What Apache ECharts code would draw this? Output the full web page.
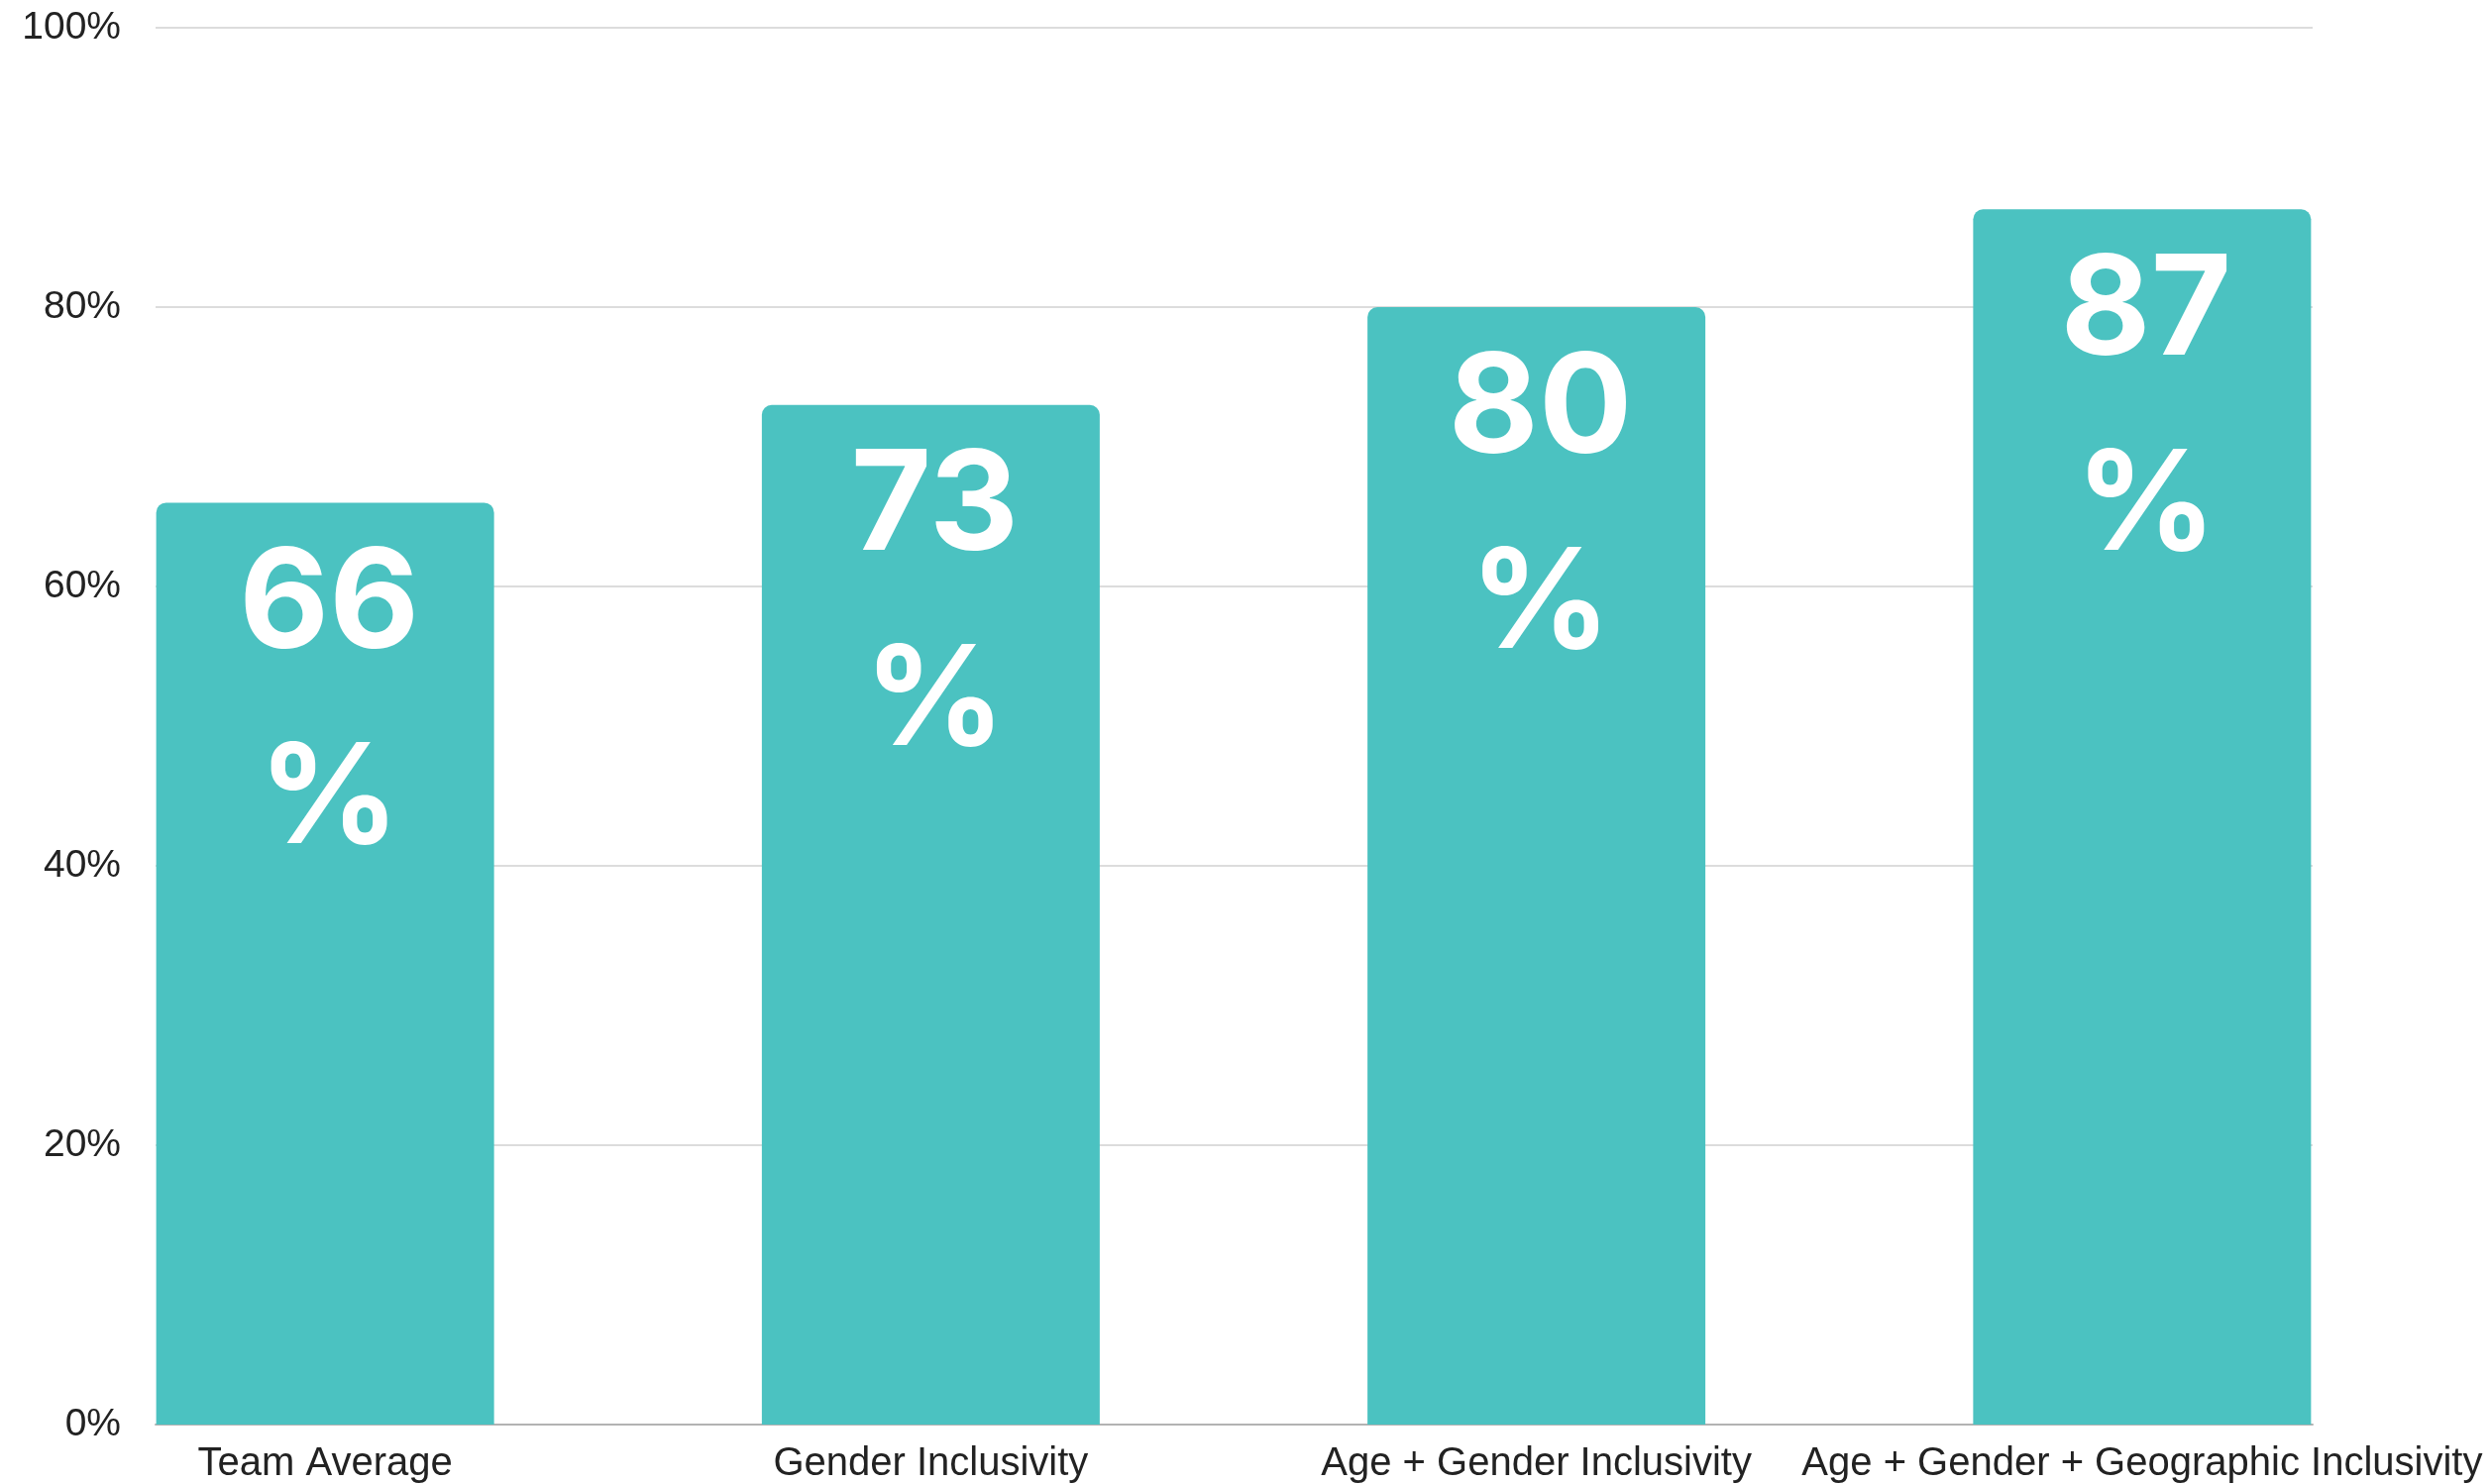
<!DOCTYPE html>
<html>
<head>
<meta charset="utf-8">
<script src="https://cdn.jsdelivr.net/npm/echarts@6/dist/echarts.min.js"></script>
<style>
html,body{margin:0;padding:0;background:#fff;}
#chart{width:2513px;height:1498px;}
</style>
</head>
<body>
<div id="chart"></div>
<script>
const categories = ['Team Average', 'Gender Inclusivity', 'Age + Gender Inclusivity', 'Age + Gender + Geographic Inclusivity'];
const values = [66, 73, 80, 87];
const yTicks = { min: 0, max: 100, interval: 20 };

const chart = echarts.init(document.getElementById('chart'), null, { renderer: 'canvas' });
chart.setOption({
  backgroundColor: '#ffffff',
  animation: false,
  grid: [
    { left: 157, right: 179, top: 28, bottom: 60 },
    { left: 22.5, right: 45.5, top: 28, bottom: 60 }
  ],
  xAxis: [
    {
      gridIndex: 0, type: 'value', min: 0, max: 1,
      axisLine: { show: true, lineStyle: { color: '#b3b3b3', width: 2 } },
      axisTick: { show: false }, axisLabel: { show: false }, splitLine: { show: false }
    },
    {
      gridIndex: 1, type: 'category', data: categories,
      axisLine: { show: false }, axisTick: { show: false },
      axisLabel: { interval: 0, fontSize: 40, color: '#222', fontFamily: 'Liberation Sans, Arial, sans-serif', margin: 20 }
    }
  ],
  yAxis: [
    {
      gridIndex: 0, type: 'value', min: yTicks.min, max: yTicks.max, interval: yTicks.interval,
      axisLine: { show: false }, axisTick: { show: false },
      axisLabel: { formatter: '{value}%', fontSize: 39, color: '#222', fontFamily: 'Liberation Sans, Arial, sans-serif', margin: 35 },
      splitLine: { show: true, lineStyle: { color: '#dcdcdc', width: 2 } }
    },
    {
      gridIndex: 1, type: 'value', min: yTicks.min, max: yTicks.max, show: false
    }
  ],
  series: [
    {
      type: 'bar', xAxisIndex: 1, yAxisIndex: 1,
      data: values, barWidth: 341,
      itemStyle: { color: '#4BC2C1', borderRadius: [10, 10, 0, 0] },
      label: {
        show: true, position: 'insideTop', distance: 6,
        formatter: '{c}\n%', color: '#ffffff', fontSize: 140, fontWeight: 'bold',
        fontFamily: 'Inter, Open Sans, sans-serif', lineHeight: 197, offset: [4, 0]
      }
    }
  ]
});
</script>
</body>
</html>
